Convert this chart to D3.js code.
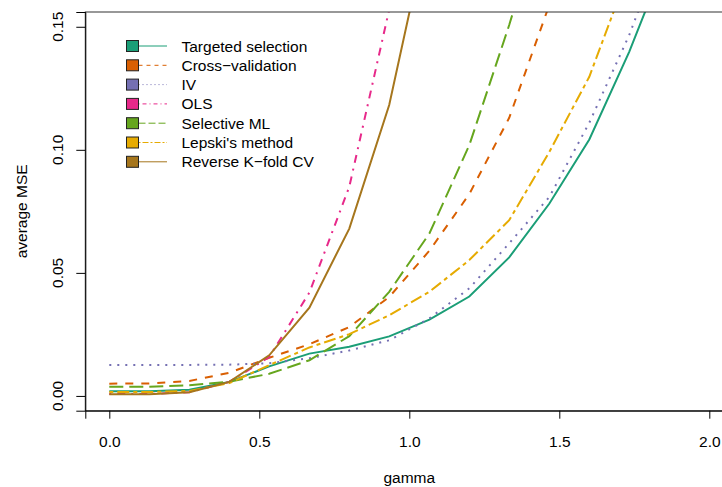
<!DOCTYPE html>
<html>
<head>
<meta charset="utf-8">
<script src="https://cdn.jsdelivr.net/npm/d3@7"></script>
<style>
  body { margin: 0; background: #fff; }
  text { font-family: "Liberation Sans", Arial, Helvetica, sans-serif; font-size: 15.5px; fill: #000; }
</style>
</head>
<body>
<div id="chart"></div>
<script>
// gamma grid and average MSE per method (null = off the chart)
const gamma = [0, 0.133, 0.267, 0.4, 0.533, 0.667, 0.8, 0.933, 1.067, 1.2, 1.333, 1.467, 1.6, 1.733, 1.867, 2.0];

const targeted  = [0.0019, 0.0019, 0.0025, 0.0057, 0.0120, 0.0172, 0.0200, 0.0242, 0.0310, 0.0404, 0.0563, 0.0782, 0.1042, 0.1398, 0.181, null];
const crossVal  = [0.0050, 0.0051, 0.0061, 0.0094, 0.0155, 0.0210, 0.0280, 0.0402, 0.0590, 0.0820, 0.1130, 0.159, null, null, null, null];
const iv        = [0.0126, 0.0126, 0.0126, 0.0127, 0.0133, 0.0153, 0.0185, 0.0226, 0.0315, 0.0437, 0.0620, 0.0809, 0.1110, 0.1466, 0.190, null];
const ols       = [0.0008, 0.0008, 0.0015, 0.0057, 0.0158, 0.0420, 0.0850, 0.157, null, null, null, null, null, null, null, null];
const selective = [0.0037, 0.0037, 0.0043, 0.0058, 0.0090, 0.0145, 0.0243, 0.0423, 0.0660, 0.1019, 0.1507, 0.205, null, null, null, null];
const lepski    = [0.0016, 0.0016, 0.0020, 0.0052, 0.0125, 0.0197, 0.0251, 0.0328, 0.0423, 0.0552, 0.0714, 0.0992, 0.1297, 0.173, null, null];
const reverseCV = [0.0007, 0.0007, 0.0015, 0.0057, 0.0165, 0.0359, 0.0680, 0.1182, 0.193, null, null, null, null, null, null, null];

const methodNames = ['Targeted selection', 'Cross\u2212validation', 'IV', 'OLS', 'Selective ML', "Lepski's method", 'Reverse K\u2212fold CV'];
const xTicks = [0, 0.5, 1, 1.5, 2];
const xTickLabels = ['0.0', '0.5', '1.0', '1.5', '2.0'];
const yTicks = [0, 0.05, 0.10, 0.15];
const yTickLabels = ['0.00', '0.05', '0.10', '0.15'];

const dimension = {
  width: 722,
  height: 487,
  plot: { left: 85.3, right: 733.3, top: 12, bottom: 410.7 }
};

// Dark2 colours and R lty 1..6,1 (scaled for lwd 2)
const colors = ['#1B9E77', '#D95F02', '#7570B3', '#E7298A', '#66A61E', '#E6AB02', '#A6761D'];
const dashes = [null, [4, 4], [1, 3], [1, 3, 4, 3], [7, 3], [2, 2, 6, 2], null];

const drawChart = () => {
  const values = [targeted, crossVal, iv, ols, selective, lepski, reverseCV];
  const p = dimension.plot;

  const svg = d3.select('#chart')
    .append('svg')
    .attr('width', dimension.width)
    .attr('height', dimension.height);

  const xScale = d3.scaleLinear()
    .domain([-0.08, 2.08])
    .range([p.left, p.right]);

  const yScale = d3.scaleLinear()
    .domain([-0.006, 0.156])
    .range([p.bottom, p.top]);

  svg.append('clipPath')
    .attr('id', 'plot-clip')
    .append('rect')
    .attr('x', p.left)
    .attr('y', p.top)
    .attr('width', p.right - p.left)
    .attr('height', p.bottom - p.top);

  const line = d3.line()
    .defined(d => d[1] != null)
    .x(d => xScale(d[0]))
    .y(d => yScale(d[1]));

  const ctr = svg.append('g').attr('clip-path', 'url(#plot-clip)');

  values.forEach((vals, i) => {
    ctr.append('path')
      .datum(gamma.map((g, j) => [g, vals[j]]))
      .attr('d', line)
      .attr('fill', 'none')
      .attr('stroke', colors[i])
      .attr('stroke-width', 2)
      .attr('stroke-dasharray', dashes[i] ? dashes[i].map(v => v * 2).join(',') : null);
  });

  // box
  svg.append('rect')
    .attr('x', p.left)
    .attr('y', p.top)
    .attr('width', p.right - p.left)
    .attr('height', p.bottom - p.top)
    .attr('fill', 'none')
    .attr('stroke', '#333')
    .attr('stroke-width', 1);

  // x axis
  const xAxis = d3.axisBottom(xScale)
    .tickValues(xTicks)
    .tickFormat((d, i) => xTickLabels[i])
    .tickSize(8)
    .tickPadding(17);
  const gx = svg.append('g')
    .attr('transform', `translate(0, ${p.bottom})`)
    .call(xAxis);
  gx.select('.domain').attr('stroke', '#000');
  gx.selectAll('.tick line').attr('stroke', '#000');
  gx.selectAll('text').attr('font-size', null).attr('font-family', null);

  // y axis, labels rotated like R
  const yAxis = d3.axisLeft(yScale)
    .tickValues(yTicks)
    .tickSize(9)
    .tickFormat('');
  const gy = svg.append('g')
    .attr('transform', `translate(${p.left}, 0)`)
    .call(yAxis);
  gy.select('.domain').attr('stroke', '#000');
  gy.selectAll('.tick line').attr('stroke', '#000');

  svg.append('g')
    .selectAll('text')
    .data(yTicks)
    .join('text')
    .attr('transform', (d) => `translate(63, ${yScale(d)}) rotate(-90)`)
    .attr('text-anchor', 'middle')
    .text((d, i) => yTickLabels[i]);

  // axis titles
  svg.append('text')
    .attr('x', (p.left + p.right) / 2)
    .attr('y', 483)
    .attr('text-anchor', 'middle')
    .text('gamma');

  svg.append('text')
    .attr('transform', `translate(26.5, ${(p.top + p.bottom) / 2}) rotate(-90)`)
    .attr('text-anchor', 'middle')
    .text('average MSE');

  // legend
  const legend = svg.append('g');
  const rowY = i => 46 + i * 19.3;
  methodNames.forEach((name, i) => {
    const g = legend.append('g').attr('transform', `translate(0, ${rowY(i)})`);
    g.append('line')
      .attr('x1', 138.5)
      .attr('x2', 167)
      .attr('stroke', colors[i])
      .attr('stroke-width', 1)
      .attr('stroke-dasharray', dashes[i] ? dashes[i].join(',') : null);
    g.append('rect')
      .attr('x', 126.5)
      .attr('y', -5.5)
      .attr('width', 12)
      .attr('height', 11)
      .attr('fill', colors[i])
      .attr('stroke', '#222')
      .attr('stroke-width', 1);
    g.append('text')
      .attr('x', 181.5)
      .attr('dy', '0.36em')
      .text(name);
  });
};

drawChart();
</script>
</body>
</html>
